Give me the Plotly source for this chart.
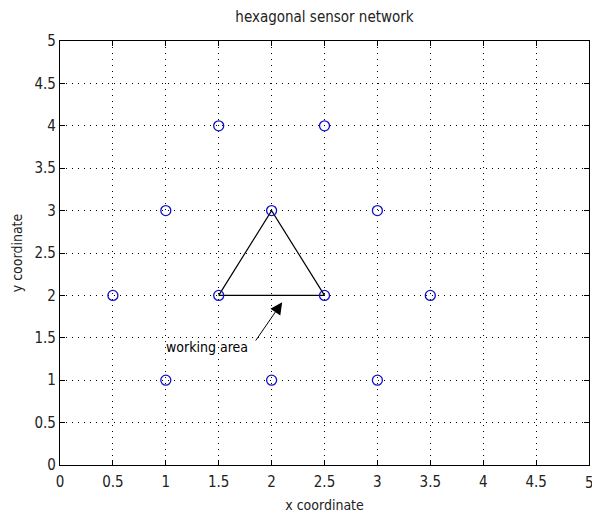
import plotly.graph_objects as go

# sensor node positions
node_x = [1.5, 2.5, 1, 2, 3, 0.5, 1.5, 2.5, 3.5, 1, 2, 3]
node_y = [4, 4, 3, 3, 3, 2, 2, 2, 2, 1, 1, 1]

# working-area triangle (closed)
tri_x = [1.5, 2, 2.5, 1.5]
tri_y = [2, 3, 2, 2]

# annotation arrow: tail -> head (data units)
arrow_tail = (1.84, 1.45)
arrow_head = (2.10, 1.92)
label_pos = (0.98, 1.39)
label_text = "working area"

tick_vals = [0, 0.5, 1, 1.5, 2, 2.5, 3, 3.5, 4, 4.5, 5]
tick_text = ["0", "0.5", "1", "1.5", "2", "2.5", "3", "3.5", "4", "4.5", "5"]

FONT = "DejaVu Sans Condensed, Liberation Sans Narrow, Arial Narrow, sans-serif"
FS_TICK = 15
FS_LABEL = 14

fig = go.Figure()
fig.add_trace(go.Scatter(
    x=tri_x, y=tri_y, mode="lines",
    line=dict(color="black", width=1.2), showlegend=False, hoverinfo="skip"))
fig.add_trace(go.Scatter(
    x=node_x, y=node_y, mode="markers",
    marker=dict(symbol="circle-open", size=10, color="#1010c8", line=dict(width=1.3)),
    showlegend=False))

fig.add_annotation(
    x=arrow_head[0], y=arrow_head[1], ax=arrow_tail[0], ay=arrow_tail[1],
    xref="x", yref="y", axref="x", ayref="y", text="",
    showarrow=True, arrowhead=2, arrowsize=2.4, arrowwidth=1.0, arrowcolor="black")
fig.add_annotation(
    x=label_pos[0], y=label_pos[1], xref="x", yref="y", text=label_text,
    showarrow=False, xanchor="left", yanchor="middle",
    font=dict(family=FONT, size=FS_LABEL, color="black"))

axis_common = dict(
    range=[0, 5], tickvals=tick_vals, ticktext=tick_text,
    showgrid=True, gridcolor="black", griddash="1px,5px", gridwidth=1,
    showline=True, linecolor="black", linewidth=1.2, mirror="ticks",
    ticks="inside", ticklen=5, tickcolor="black", tickwidth=1.2,
    zeroline=False, tickfont=dict(family=FONT, size=FS_TICK, color="#222"),
)

fig.update_xaxes(**axis_common, ticklabelstandoff=3,
                 title=dict(text="x coordinate", standoff=10,
                            font=dict(family=FONT, size=FS_LABEL, color="#222")))
fig.update_yaxes(**axis_common,
                 title=dict(text="y coordinate", standoff=8,
                            font=dict(family=FONT, size=FS_LABEL, color="#222")))

# rightmost x tick label sits on the page edge; draw it so it is not dropped
fig.add_annotation(
    x=5, y=0, xref="x", yref="paper", yshift=-7, text="5", showarrow=False,
    xanchor="center", yanchor="top", font=dict(family=FONT, size=FS_TICK, color="#222"))

fig.update_layout(
    width=592, height=516,
    margin=dict(l=60, r=3, t=41, b=51),
    paper_bgcolor="white", plot_bgcolor="white",
    title=dict(text="hexagonal sensor network", x=0.5, xref="paper", xanchor="center",
               y=0.968, yanchor="middle",
               font=dict(family=FONT, size=15, color="#222")),
)

fig.write_html("out.html")
